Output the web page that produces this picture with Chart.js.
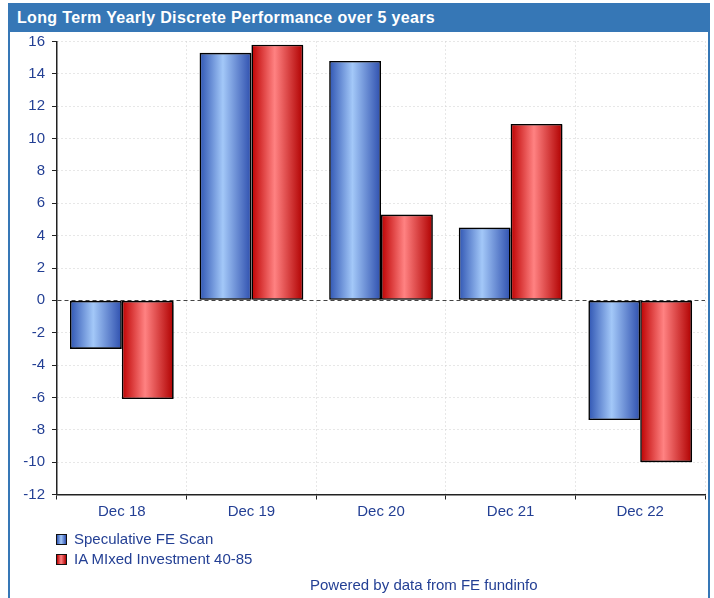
<!DOCTYPE html>
<html>
<head>
<meta charset="utf-8">
<script src="https://cdn.jsdelivr.net/npm/chart.js@4.4.1/dist/chart.umd.min.js"></script>
<style>
  html, body { margin: 0; padding: 0; background: #fff; }
  #wrap { position: relative; width: 714px; height: 598px; overflow: hidden; font-family: "Liberation Sans", Arial, sans-serif; }
  #frame { position: absolute; left: 8px; top: 3px; width: 698px; height: 620px; border-left: 2px solid #3677B6; border-right: 2px solid #3677B6; }
  #titlebar { position: absolute; left: 8px; top: 3px; width: 702px; height: 29px; background: #3677B6; }
  #title { position: absolute; left: 17px; top: 9px; color: #fff; font-weight: bold; font-size: 16px; letter-spacing: 0.35px; line-height: 18px; white-space: nowrap; }
  canvas { position: absolute; left: 0; top: 0; }
  .leg { position: absolute; left: 56px; font-size: 15px; color: #233f94; line-height: 17px; white-space: nowrap; }
  .sw { display: inline-block; width: 9px; height: 9px; border: 1px solid #111; vertical-align: -1px; margin-right: 7px; }
  #powered { position: absolute; left: 310px; top: 576px; font-size: 15px; color: #233f94; white-space: nowrap; }
</style>
</head>
<body>
<div id="wrap">
  <div id="frame"></div>
  <div id="titlebar"></div>
  <div id="title">Long Term Yearly Discrete Performance over 5 years</div>
  <canvas id="c" width="714" height="598"></canvas>
  <div class="leg" id="leg0" style="top:530px"></div>
  <div class="leg" id="leg1" style="top:550px"></div>
  <div id="powered">Powered by data from FE fundinfo</div>
</div>
<script>
const categories = ['Dec 18', 'Dec 19', 'Dec 20', 'Dec 21', 'Dec 22'];
const seriesNames = ['Speculative FE Scan', 'IA MIxed Investment 40-85'];
const speculativeValues = [-3.0, 15.3, 14.8, 4.5, -7.4];
const iaMixedValues = [-6.1, 15.8, 5.3, 10.9, -10.0];
const yTickMin = -12;
const yTickMax = 16;
const yTickStep = 2;

const blueStops = [[0, '#2f55b3'], [0.45, '#a3c8f8'], [1, '#2e4fae']];
const redStops = [[0, '#bd0000'], [0.45, '#ff8282'], [1, '#b00000']];
const CAT_PCT = 0.8;

function cssGrad(stops) {
  return 'linear-gradient(to right,' + stops.map(s => s[1] + ' ' + (s[0] * 100) + '%').join(',') + ')';
}
function legendItem(id, name, stops) {
  const el = document.getElementById(id);
  const sw = document.createElement('span');
  sw.className = 'sw';
  sw.style.background = cssGrad(stops);
  el.appendChild(sw);
  el.appendChild(document.createTextNode(name));
}
legendItem('leg0', seriesNames[0], blueStops);
legendItem('leg1', seriesNames[1], redStops);

function barGradient(stops, dsIndex) {
  return function (ctx) {
    const chart = ctx.chart;
    const x = chart.scales && chart.scales.x;
    if (ctx.type !== 'data' || !x || !chart.chartArea) return stops[1][1];
    const cat = (x.right - x.left) / categories.length;
    const c = x.getPixelForValue(ctx.dataIndex);
    const w = cat * CAT_PCT / 2;
    const left = dsIndex === 0 ? c - w : c;
    const g = chart.ctx.createLinearGradient(left, 0, left + w, 0);
    stops.forEach(s => g.addColorStop(s[0], s[1]));
    return g;
  };
}

const shadowPlugin = {
  id: 'barShadow',
  beforeDatasetsDraw(chart) {
    const ctx = chart.ctx;
    ctx.save();
    ctx.shadowColor = 'rgba(0,0,0,0.3)';
    ctx.shadowOffsetX = 1.5;
    ctx.shadowOffsetY = 1;
    ctx.shadowBlur = 1;
  },
  afterDatasetsDraw(chart) {
    chart.ctx.restore();
  }
};

const txt = '#233f94';
const font = { family: '"Liberation Sans", Arial, sans-serif', size: 15 };

new Chart(document.getElementById('c'), {
  type: 'bar',
  data: {
    labels: categories,
    datasets: [
      { label: seriesNames[0], data: speculativeValues, backgroundColor: barGradient(blueStops, 0),
        borderColor: '#000', borderWidth: 1.6, borderSkipped: false },
      { label: seriesNames[1], data: iaMixedValues, backgroundColor: barGradient(redStops, 1),
        borderColor: '#000', borderWidth: 1.6, borderSkipped: false }
    ]
  },
  plugins: [shadowPlugin],
  options: {
    responsive: false,
    animation: false,
    devicePixelRatio: 1,
    layout: { padding: { left: 10, top: 41.5, right: 9, bottom: 73.5 } },
    datasets: { bar: { categoryPercentage: CAT_PCT, barPercentage: 1.0 } },
    plugins: { legend: { display: false }, tooltip: { enabled: false }, title: { display: false } },
    scales: {
      x: {
        afterFit: s => { s.height = 30; },
        grid: { offset: true, color: '#cfcfcf', lineWidth: 1, tickLength: 5, tickColor: '#222', tickWidth: 1, tickBorderDash: [] },
        border: { display: true, color: '#222', width: 1.5, dash: [1, 3] },
        ticks: { color: txt, font: font, padding: 3, maxRotation: 0 }
      },
      y: {
        min: yTickMin, max: yTickMax,
        afterFit: s => { s.width = 47; },
        grid: {
          color: c => (c.tick && c.tick.value === 0) ? '#444' : '#cfcfcf',
          lineWidth: 1, tickLength: 5, tickColor: '#222', tickWidth: 1, tickBorderDash: []
        },
        border: { display: true, color: '#222', width: 1.5,
          dash: c => (c.tick && c.tick.value === 0) ? [4, 3] : [1, 3] },
        ticks: { stepSize: yTickStep, color: txt, font: font, padding: 7 }
      }
    }
  }
});
</script>
</body>
</html>
